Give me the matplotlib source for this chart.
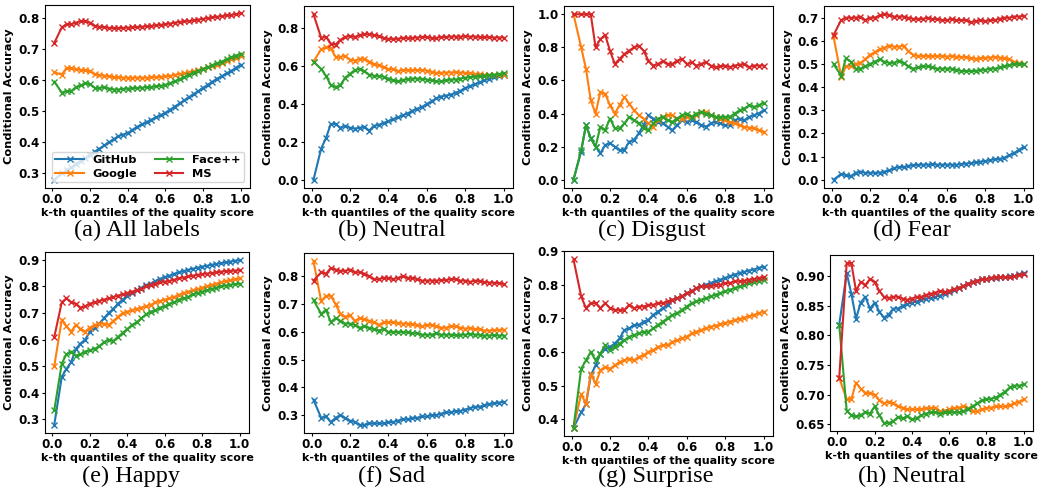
import matplotlib
matplotlib.use("Agg")
import matplotlib.pyplot as plt

plt.rcParams['font.family'] = ['DejaVu Sans']
plt.rcParams['font.weight'] = 'bold'
plt.rcParams['axes.labelweight'] = 'bold'

# x grid: k-th quantiles
quantiles = [0.01] + [0.025 * k for k in range(2, 41)]

series_names = ["GitHub", "Google", "Face++", "MS"]
series_colors = ["#1f77b4", "#ff7f0e", "#2ca02c", "#d62728"]

captions = ["(a) All labels", "(b) Neutral", "(c) Disgust", "(d) Fear",
            "(e) Happy", "(f) Sad", "(g) Surprise", "(h) Neutral"]

# y tick values per panel
yticks_list = [
    [0.3, 0.4, 0.5, 0.6, 0.7, 0.8],
    [0.0, 0.2, 0.4, 0.6, 0.8],
    [0.0, 0.2, 0.4, 0.6, 0.8, 1.0],
    [0.0, 0.1, 0.2, 0.3, 0.4, 0.5, 0.6, 0.7],
    [0.3, 0.4, 0.5, 0.6, 0.7, 0.8, 0.9],
    [0.3, 0.4, 0.5, 0.6, 0.7, 0.8],
    [0.4, 0.5, 0.6, 0.7, 0.8, 0.9],
    [0.65, 0.70, 0.75, 0.80, 0.85, 0.90],
]

# ---- (a) All labels
all_github = [0.28, 0.30, 0.31, 0.32, 0.33, 0.34, 0.35, 0.36, 0.37, 0.38, 0.39, 0.40, 0.41, 0.42, 0.425, 0.43, 0.44, 0.45, 0.458, 0.465, 0.473, 0.48, 0.488, 0.495, 0.505, 0.515, 0.525, 0.535, 0.545, 0.555, 0.565, 0.575, 0.585, 0.595, 0.605, 0.613, 0.622, 0.63, 0.64, 0.65]
all_google = [0.625, 0.618, 0.64, 0.638, 0.636, 0.633, 0.632, 0.628, 0.62, 0.617, 0.615, 0.612, 0.61, 0.609, 0.608, 0.608, 0.608, 0.608, 0.608, 0.608, 0.609, 0.61, 0.611, 0.612, 0.614, 0.617, 0.62, 0.622, 0.625, 0.628, 0.632, 0.637, 0.641, 0.645, 0.65, 0.655, 0.661, 0.667, 0.672, 0.678]
all_facepp = [0.595, 0.56, 0.565, 0.565, 0.578, 0.583, 0.59, 0.587, 0.575, 0.575, 0.577, 0.573, 0.57, 0.57, 0.572, 0.573, 0.574, 0.575, 0.576, 0.577, 0.578, 0.58, 0.582, 0.585, 0.59, 0.597, 0.603, 0.61, 0.617, 0.624, 0.63, 0.636, 0.642, 0.648, 0.654, 0.66, 0.667, 0.673, 0.679, 0.685]
all_ms = [0.72, 0.77, 0.78, 0.78, 0.785, 0.79, 0.79, 0.785, 0.775, 0.772, 0.77, 0.768, 0.768, 0.768, 0.768, 0.769, 0.77, 0.771, 0.772, 0.773, 0.775, 0.776, 0.778, 0.78, 0.782, 0.785, 0.787, 0.789, 0.79, 0.792, 0.795, 0.797, 0.8, 0.802, 0.804, 0.806, 0.808, 0.81, 0.812, 0.815]

# ---- (b) Neutral
neu_github = [0.0, 0.165, 0.22, 0.295, 0.295, 0.275, 0.285, 0.275, 0.27, 0.275, 0.28, 0.26, 0.285, 0.29, 0.30, 0.31, 0.32, 0.33, 0.34, 0.35, 0.365, 0.375, 0.385, 0.40, 0.415, 0.43, 0.44, 0.445, 0.45, 0.46, 0.47, 0.485, 0.495, 0.505, 0.515, 0.525, 0.535, 0.545, 0.55, 0.555]
neu_google = [0.625, 0.69, 0.70, 0.695, 0.65, 0.65, 0.655, 0.635, 0.63, 0.64, 0.64, 0.625, 0.61, 0.605, 0.595, 0.585, 0.585, 0.575, 0.58, 0.58, 0.58, 0.58, 0.58, 0.577, 0.57, 0.565, 0.565, 0.567, 0.567, 0.568, 0.567, 0.565, 0.563, 0.56, 0.557, 0.555, 0.555, 0.555, 0.555, 0.555]
neu_facepp = [0.625, 0.585, 0.55, 0.50, 0.49, 0.50, 0.54, 0.56, 0.58, 0.585, 0.575, 0.555, 0.55, 0.548, 0.545, 0.535, 0.525, 0.52, 0.527, 0.532, 0.535, 0.535, 0.533, 0.53, 0.525, 0.52, 0.52, 0.525, 0.53, 0.53, 0.535, 0.54, 0.542, 0.545, 0.548, 0.55, 0.552, 0.555, 0.558, 0.563]
neu_ms = [0.875, 0.75, 0.755, 0.72, 0.715, 0.74, 0.755, 0.76, 0.755, 0.765, 0.77, 0.77, 0.765, 0.76, 0.75, 0.745, 0.745, 0.745, 0.75, 0.75, 0.75, 0.752, 0.755, 0.755, 0.75, 0.75, 0.755, 0.755, 0.757, 0.757, 0.757, 0.758, 0.757, 0.757, 0.755, 0.755, 0.753, 0.752, 0.752, 0.752]

# ---- (c) Disgust
dis_github = [0.0, 0.17, 0.33, 0.25, 0.20, 0.16, 0.21, 0.22, 0.20, 0.18, 0.18, 0.23, 0.24, 0.28, 0.33, 0.39, 0.37, 0.35, 0.34, 0.32, 0.30, 0.33, 0.36, 0.35, 0.36, 0.35, 0.33, 0.32, 0.34, 0.35, 0.34, 0.33, 0.33, 0.36, 0.37, 0.36, 0.38, 0.39, 0.40, 0.42]
dis_google = [1.0, 0.80, 0.67, 0.48, 0.40, 0.53, 0.52, 0.45, 0.40, 0.45, 0.50, 0.46, 0.42, 0.39, 0.37, 0.34, 0.32, 0.36, 0.38, 0.39, 0.39, 0.37, 0.37, 0.38, 0.38, 0.39, 0.41, 0.41, 0.39, 0.38, 0.37, 0.36, 0.35, 0.34, 0.33, 0.32, 0.315, 0.31, 0.30, 0.29]
dis_facepp = [0.0, 0.18, 0.33, 0.25, 0.20, 0.32, 0.30, 0.37, 0.31, 0.31, 0.34, 0.38, 0.36, 0.34, 0.31, 0.30, 0.34, 0.37, 0.38, 0.36, 0.35, 0.37, 0.39, 0.40, 0.38, 0.40, 0.41, 0.40, 0.39, 0.38, 0.38, 0.38, 0.38, 0.40, 0.42, 0.43, 0.45, 0.44, 0.45, 0.465]
dis_ms = [1.0, 1.0, 1.0, 1.0, 0.80, 0.85, 0.875, 0.78, 0.70, 0.73, 0.76, 0.78, 0.80, 0.81, 0.78, 0.72, 0.69, 0.70, 0.715, 0.70, 0.70, 0.72, 0.73, 0.70, 0.71, 0.69, 0.70, 0.71, 0.69, 0.68, 0.685, 0.69, 0.68, 0.69, 0.695, 0.70, 0.68, 0.69, 0.69, 0.69]

# ---- (d) Fear
fear_github = [0.0, 0.025, 0.02, 0.015, 0.03, 0.035, 0.03, 0.03, 0.03, 0.03, 0.035, 0.04, 0.05, 0.055, 0.055, 0.06, 0.062, 0.065, 0.065, 0.065, 0.067, 0.065, 0.065, 0.065, 0.065, 0.065, 0.067, 0.07, 0.072, 0.075, 0.078, 0.08, 0.085, 0.088, 0.09, 0.095, 0.105, 0.115, 0.128, 0.142]
fear_google = [0.62, 0.445, 0.49, 0.49, 0.50, 0.505, 0.52, 0.54, 0.55, 0.565, 0.57, 0.58, 0.575, 0.575, 0.58, 0.555, 0.54, 0.535, 0.535, 0.535, 0.535, 0.535, 0.535, 0.532, 0.535, 0.532, 0.53, 0.53, 0.525, 0.523, 0.525, 0.527, 0.528, 0.53, 0.528, 0.525, 0.52, 0.51, 0.505, 0.50]
fear_facepp = [0.50, 0.45, 0.525, 0.51, 0.48, 0.48, 0.49, 0.50, 0.51, 0.52, 0.51, 0.505, 0.505, 0.515, 0.505, 0.49, 0.48, 0.485, 0.49, 0.49, 0.485, 0.48, 0.48, 0.48, 0.48, 0.475, 0.47, 0.47, 0.47, 0.47, 0.475, 0.475, 0.48, 0.48, 0.485, 0.49, 0.495, 0.50, 0.50, 0.50]
fear_ms = [0.625, 0.69, 0.70, 0.70, 0.70, 0.705, 0.69, 0.70, 0.70, 0.71, 0.715, 0.712, 0.705, 0.705, 0.705, 0.70, 0.695, 0.695, 0.695, 0.70, 0.695, 0.695, 0.69, 0.69, 0.695, 0.69, 0.69, 0.69, 0.68, 0.685, 0.69, 0.685, 0.69, 0.69, 0.695, 0.70, 0.70, 0.705, 0.705, 0.708]

# ---- (e) Happy
hap_github = [0.28, 0.46, 0.49, 0.515, 0.565, 0.585, 0.60, 0.63, 0.645, 0.66, 0.68, 0.70, 0.715, 0.735, 0.75, 0.765, 0.775, 0.785, 0.795, 0.805, 0.81, 0.82, 0.828, 0.835, 0.84, 0.847, 0.852, 0.857, 0.862, 0.866, 0.87, 0.874, 0.877, 0.881, 0.884, 0.887, 0.89, 0.893, 0.896, 0.898]
hap_google = [0.50, 0.675, 0.65, 0.63, 0.655, 0.64, 0.63, 0.645, 0.655, 0.66, 0.66, 0.655, 0.67, 0.685, 0.70, 0.705, 0.71, 0.715, 0.72, 0.725, 0.73, 0.74, 0.745, 0.75, 0.755, 0.76, 0.768, 0.775, 0.78, 0.785, 0.79, 0.795, 0.80, 0.805, 0.81, 0.815, 0.82, 0.823, 0.826, 0.83]
hap_facepp = [0.335, 0.51, 0.545, 0.555, 0.54, 0.545, 0.555, 0.56, 0.565, 0.575, 0.59, 0.60, 0.595, 0.61, 0.625, 0.64, 0.655, 0.665, 0.68, 0.695, 0.705, 0.71, 0.72, 0.725, 0.735, 0.74, 0.75, 0.755, 0.76, 0.77, 0.775, 0.78, 0.785, 0.79, 0.795, 0.80, 0.803, 0.806, 0.808, 0.81]
hap_ms = [0.61, 0.74, 0.755, 0.74, 0.735, 0.72, 0.725, 0.735, 0.74, 0.745, 0.75, 0.755, 0.76, 0.765, 0.77, 0.775, 0.78, 0.785, 0.79, 0.80, 0.805, 0.81, 0.815, 0.818, 0.82, 0.825, 0.83, 0.833, 0.837, 0.84, 0.843, 0.846, 0.848, 0.85, 0.852, 0.855, 0.857, 0.858, 0.859, 0.86]

# ---- (f) Sad
sad_github = [0.355, 0.29, 0.295, 0.275, 0.29, 0.30, 0.29, 0.28, 0.275, 0.265, 0.265, 0.27, 0.27, 0.27, 0.27, 0.275, 0.275, 0.28, 0.285, 0.285, 0.29, 0.29, 0.295, 0.295, 0.30, 0.30, 0.305, 0.31, 0.31, 0.315, 0.315, 0.32, 0.325, 0.33, 0.33, 0.335, 0.34, 0.342, 0.345, 0.347]
sad_google = [0.855, 0.71, 0.73, 0.73, 0.70, 0.665, 0.655, 0.66, 0.64, 0.65, 0.645, 0.64, 0.635, 0.625, 0.635, 0.635, 0.635, 0.632, 0.63, 0.63, 0.628, 0.625, 0.62, 0.625, 0.625, 0.62, 0.615, 0.615, 0.62, 0.62, 0.615, 0.612, 0.613, 0.61, 0.61, 0.605, 0.605, 0.606, 0.607, 0.608]
sad_facepp = [0.715, 0.665, 0.68, 0.635, 0.65, 0.64, 0.63, 0.63, 0.625, 0.615, 0.62, 0.615, 0.61, 0.605, 0.61, 0.60, 0.60, 0.60, 0.60, 0.598, 0.595, 0.595, 0.59, 0.59, 0.59, 0.595, 0.59, 0.59, 0.59, 0.588, 0.59, 0.59, 0.593, 0.59, 0.59, 0.587, 0.587, 0.588, 0.587, 0.587]
sad_ms = [0.785, 0.815, 0.81, 0.83, 0.825, 0.82, 0.82, 0.825, 0.815, 0.815, 0.81, 0.80, 0.79, 0.79, 0.795, 0.795, 0.79, 0.795, 0.80, 0.795, 0.795, 0.79, 0.785, 0.785, 0.785, 0.785, 0.787, 0.787, 0.79, 0.79, 0.785, 0.785, 0.78, 0.785, 0.783, 0.78, 0.778, 0.777, 0.776, 0.773]

# ---- (g) Surprise
sur_github = [0.375, 0.42, 0.445, 0.53, 0.56, 0.595, 0.61, 0.615, 0.625, 0.64, 0.665, 0.67, 0.68, 0.68, 0.69, 0.695, 0.71, 0.72, 0.73, 0.74, 0.755, 0.76, 0.765, 0.775, 0.78, 0.79, 0.795, 0.80, 0.805, 0.81, 0.815, 0.82, 0.825, 0.83, 0.835, 0.838, 0.842, 0.845, 0.85, 0.853]
sur_google = [0.375, 0.475, 0.445, 0.535, 0.505, 0.545, 0.555, 0.55, 0.56, 0.57, 0.575, 0.58, 0.575, 0.585, 0.59, 0.60, 0.605, 0.615, 0.62, 0.62, 0.63, 0.635, 0.64, 0.645, 0.655, 0.66, 0.665, 0.67, 0.675, 0.678, 0.682, 0.686, 0.69, 0.695, 0.698, 0.702, 0.706, 0.71, 0.715, 0.72]
sur_facepp = [0.375, 0.55, 0.575, 0.60, 0.575, 0.595, 0.62, 0.605, 0.615, 0.625, 0.635, 0.645, 0.65, 0.655, 0.66, 0.66, 0.67, 0.68, 0.69, 0.70, 0.71, 0.715, 0.725, 0.735, 0.745, 0.75, 0.755, 0.76, 0.765, 0.77, 0.775, 0.78, 0.785, 0.79, 0.795, 0.80, 0.805, 0.808, 0.812, 0.815]
sur_ms = [0.875, 0.765, 0.73, 0.745, 0.745, 0.73, 0.745, 0.73, 0.725, 0.725, 0.725, 0.74, 0.73, 0.735, 0.735, 0.74, 0.74, 0.745, 0.745, 0.75, 0.755, 0.76, 0.765, 0.775, 0.78, 0.79, 0.795, 0.795, 0.795, 0.80, 0.80, 0.805, 0.805, 0.81, 0.81, 0.812, 0.815, 0.817, 0.82, 0.822]

# ---- (h) Neutral
neu2_github = [0.818, 0.905, 0.87, 0.828, 0.855, 0.865, 0.845, 0.855, 0.84, 0.83, 0.835, 0.845, 0.845, 0.85, 0.853, 0.855, 0.857, 0.86, 0.862, 0.863, 0.865, 0.867, 0.87, 0.873, 0.877, 0.88, 0.883, 0.887, 0.89, 0.892, 0.895, 0.895, 0.897, 0.897, 0.898, 0.898, 0.9, 0.9, 0.903, 0.905]
neu2_google = [0.728, 0.692, 0.692, 0.72, 0.71, 0.703, 0.702, 0.70, 0.69, 0.685, 0.688, 0.685, 0.68, 0.678, 0.675, 0.675, 0.675, 0.675, 0.677, 0.677, 0.678, 0.672, 0.673, 0.675, 0.677, 0.678, 0.68, 0.678, 0.673, 0.672, 0.675, 0.677, 0.678, 0.68, 0.68, 0.68, 0.682, 0.685, 0.688, 0.692]
neu2_facepp = [0.818, 0.673, 0.665, 0.663, 0.665, 0.67, 0.668, 0.68, 0.665, 0.652, 0.652, 0.655, 0.662, 0.66, 0.663, 0.658, 0.66, 0.665, 0.668, 0.67, 0.67, 0.668, 0.67, 0.67, 0.67, 0.67, 0.672, 0.675, 0.68, 0.685, 0.69, 0.692, 0.693, 0.695, 0.70, 0.705, 0.712, 0.715, 0.715, 0.717]
neu2_ms = [0.728, 0.922, 0.922, 0.875, 0.89, 0.885, 0.895, 0.89, 0.875, 0.865, 0.863, 0.865, 0.865, 0.862, 0.86, 0.862, 0.865, 0.865, 0.868, 0.87, 0.872, 0.875, 0.873, 0.875, 0.878, 0.88, 0.883, 0.887, 0.89, 0.892, 0.895, 0.895, 0.897, 0.898, 0.898, 0.898, 0.898, 0.9, 0.902, 0.903]

panels = [
    (all_github, all_google, all_facepp, all_ms),
    (neu_github, neu_google, neu_facepp, neu_ms),
    (dis_github, dis_google, dis_facepp, dis_ms),
    (fear_github, fear_google, fear_facepp, fear_ms),
    (hap_github, hap_google, hap_facepp, hap_ms),
    (sad_github, sad_google, sad_facepp, sad_ms),
    (sur_github, sur_google, sur_facepp, sur_ms),
    (neu2_github, neu2_google, neu2_facepp, neu2_ms),
]

W, H = 1039, 492
fig = plt.figure(figsize=(W / 100, H / 100), dpi=100)

# axes boxes in pixels: left, top, right, bottom
boxes = [
    (45, 5, 250, 188), (304, 6, 513, 188), (564, 6, 773, 188), (824, 6, 1033, 188),
    (45, 252, 249, 433), (304, 253, 513, 433), (564, 251, 773, 436), (830, 255, 1033, 431),
]
cap_pos = [(137, 230), (392, 230), (652, 230), (912, 230),
           (131, 476), (392, 476), (656, 476), (912, 476)]

for idx, (data, box) in enumerate(zip(panels, boxes)):
    l, t, r, b = box
    ax = fig.add_axes([l / W, 1 - b / H, (r - l) / W, (b - t) / H])
    for name, col, ys in zip(series_names, series_colors, data):
        ax.plot(quantiles, ys, color=col, marker='x', markersize=4.5,
                markeredgewidth=1.0, linewidth=1.5, label=name)
    ax.set_xticks([0.0, 0.2, 0.4, 0.6, 0.8, 1.0])
    ax.set_yticks(yticks_list[idx])
    ax.tick_params(labelsize=8.6, length=2.5, pad=1.2)
    for lab in ax.get_xticklabels() + ax.get_yticklabels():
        lab.set_fontweight('bold')
    ax.set_xlabel("k-th quantiles of the quality score", fontsize=8.0,
                  fontweight='bold', labelpad=1)
    ax.set_ylabel("Conditional Accuracy", fontsize=8.2, fontweight='bold', labelpad=3)
    if idx == 0:
        ax.legend(loc='lower right', ncol=2, prop={'weight': 'bold', 'size': 8.2},
                  handlelength=2.5, columnspacing=1.5, borderpad=0.3,
                  labelspacing=0.3, borderaxespad=0.5)
    cx, cy = cap_pos[idx]
    fig.text(cx / W, 1 - cy / H, captions[idx], ha='center', va='center',
             fontsize=17.5, family='Liberation Serif', fontweight='normal')

fig.savefig("out.png", dpi=100)
